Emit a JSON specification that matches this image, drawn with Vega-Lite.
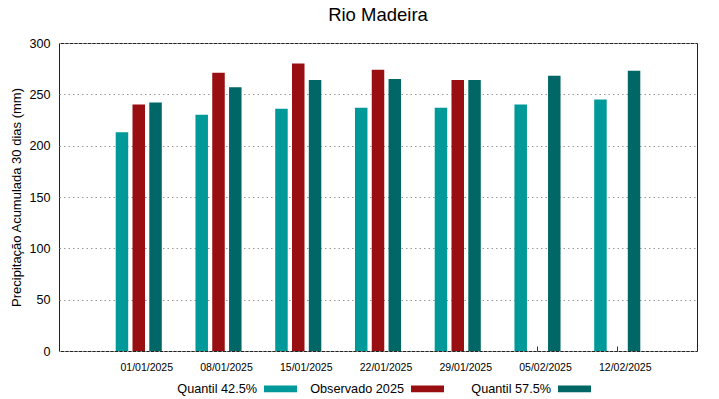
{
  "$schema": "https://vega.github.io/schema/vega-lite/v6.json",
  "width": 638,
  "height": 308,
  "autosize": {"type": "none"},
  "padding": {"left": 59, "top": 43, "right": 22, "bottom": 48},
  "background": "white",
  "title": {
    "text": "Rio Madeira",
    "fontSize": 18.5,
    "font": "Liberation Sans",
    "fontWeight": "normal",
    "color": "#000000",
    "offset": 13,
    "anchor": "middle"
  },
  "config": {
    "font": "Liberation Sans",
    "view": {"stroke": "#222222", "strokeWidth": 1},
    "axis": {"labelColor": "#000000", "titleColor": "#000000"}
  },
  "data": {
    "values": [
      {"date": "01/01/2025", "series": "Quantil 42.5%", "value": 213},
      {"date": "01/01/2025", "series": "Observado 2025", "value": 240},
      {"date": "01/01/2025", "series": "Quantil 57.5%", "value": 242},
      {"date": "08/01/2025", "series": "Quantil 42.5%", "value": 230},
      {"date": "08/01/2025", "series": "Observado 2025", "value": 271},
      {"date": "08/01/2025", "series": "Quantil 57.5%", "value": 257},
      {"date": "15/01/2025", "series": "Quantil 42.5%", "value": 236},
      {"date": "15/01/2025", "series": "Observado 2025", "value": 280},
      {"date": "15/01/2025", "series": "Quantil 57.5%", "value": 264},
      {"date": "22/01/2025", "series": "Quantil 42.5%", "value": 237},
      {"date": "22/01/2025", "series": "Observado 2025", "value": 274},
      {"date": "22/01/2025", "series": "Quantil 57.5%", "value": 265},
      {"date": "29/01/2025", "series": "Quantil 42.5%", "value": 237},
      {"date": "29/01/2025", "series": "Observado 2025", "value": 264},
      {"date": "29/01/2025", "series": "Quantil 57.5%", "value": 264},
      {"date": "05/02/2025", "series": "Quantil 42.5%", "value": 240},
      {"date": "05/02/2025", "series": "Quantil 57.5%", "value": 268},
      {"date": "12/02/2025", "series": "Quantil 42.5%", "value": 245},
      {"date": "12/02/2025", "series": "Quantil 57.5%", "value": 273}
    ]
  },
  "mark": {"type": "bar", "width": 12.5},
  "encoding": {
    "x": {
      "field": "date",
      "type": "nominal",
      "sort": ["01/01/2025", "08/01/2025", "15/01/2025", "22/01/2025", "29/01/2025", "05/02/2025", "12/02/2025"],
      "scale": {"paddingInner": 0, "paddingOuter": 0.5},
      "axis": {
        "title": null,
        "labelAngle": 0,
        "labelFontSize": 10.5,
        "labelOffset": 8,
        "labelPadding": 16,
        "domain": false,
        "ticks": true,
        "tickSize": -5,
        "tickColor": "#333333",
        "grid": false
      }
    },
    "xOffset": {
      "field": "series",
      "type": "nominal",
      "sort": ["Quantil 42.5%", "Observado 2025", "Quantil 57.5%"],
      "scale": {"domain": ["Quantil 42.5%", "Observado 2025", "Quantil 57.5%"], "paddingInner": 0.25, "paddingOuter": 1.125}
    },
    "y": {
      "field": "value",
      "type": "quantitative",
      "scale": {"domain": [0, 300], "nice": false},
      "axis": {
        "title": "Precipitação Acumulada 30 dias (mm)",
        "titleFontSize": 13,
        "titleFontWeight": "normal",
        "titlePadding": 5,
        "labelFontSize": 12.6,
        "labelPadding": 9,
        "values": [0, 50, 100, 150, 200, 250, 300],
        "domain": false,
        "ticks": false,
        "grid": true,
        "gridColor": "#999999",
        "gridDash": [1.5, 3],
        "gridWidth": 1
      }
    },
    "color": {
      "field": "series",
      "type": "nominal",
      "sort": ["Quantil 42.5%", "Observado 2025", "Quantil 57.5%"],
      "scale": {"domain": ["Quantil 42.5%", "Observado 2025", "Quantil 57.5%"], "range": ["#009999", "#990e10", "#006666"]},
      "legend": {
        "title": null,
        "orient": "none",
        "legendX": 205,
        "legendY": 329,
        "direction": "horizontal",
        "labelFontSize": 12.7,
        "labelColor": "#000000",
        "labelAlign": "right",
        "labelOffset": -40,
        "symbolType": "M-1,-0.2H1V0.2H-1Z",
        "symbolSize": 1089,
        "symbolStrokeWidth": 0,
        "symbolOpacity": 1,
        "gridAlign": "all",
        "columnPadding": 13
      }
    }
  }
}
